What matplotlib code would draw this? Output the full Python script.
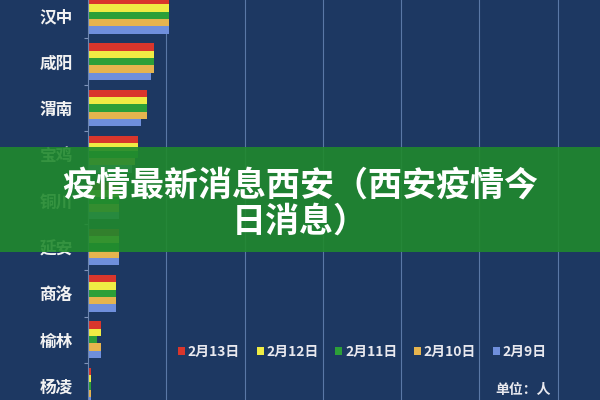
import matplotlib
matplotlib.use("Agg")
import matplotlib.pyplot as plt
import numpy as np
from matplotlib.patches import Rectangle

plt.rcParams['font.family'] = ['Noto Sans CJK SC', 'DejaVu Sans']

# 陕西各市确诊人数（西安、安康在图外）
cities = ["汉中", "咸阳", "渭南", "宝鸡", "铜川", "延安", "商洛", "榆林", "杨凌"]
dates = ["2月13日", "2月12日", "2月11日", "2月10日", "2月9日"]
feb13 = [26, 21, 19, 16, 10, 10, 9, 4, 1]
feb12 = [26, 21, 19, 16, 10, 10, 9, 4, 1]
feb11 = [26, 21, 19, 16, 10, 10, 9, 3, 1]
feb10 = [26, 21, 19, 15, 10, 10, 9, 4, 1]
feb09 = [26, 20, 17, 14, 10, 10, 9, 4, 1]
series = [feb13, feb12, feb11, feb10, feb09]
colors = ["#d9362c", "#efec44", "#2c9f38", "#e6b44e", "#6f8fdc"]

title_1 = "疫情最新消息西安（西安疫情今"
title_2 = "日消息）"

bg = "#1d3862"
txt = "#f2f2f2"

fig = plt.figure(figsize=(6, 4), dpi=100, facecolor=bg)
ax = fig.add_axes([88 / 600, 0, 1 - 88 / 600, 1], facecolor=bg)

y = np.arange(len(cities))
h = 0.158
for k, (vals, c) in enumerate(zip(series, colors)):
    ax.barh(y + (k - 2) * h, vals, height=h, color=c, label=dates[k], zorder=2)

ax.set_xlim(0, 512 / 3.13)
ax.set_ylim(8.3, -0.33)
ax.set_xticks(np.arange(25, 175, 25))
ax.set_xticklabels([])
ax.tick_params(axis='x', length=0)
ax.grid(axis='x', color="#5a78a6", linewidth=0.8)
ax.set_axisbelow(True)

ax.set_yticks(y)
ax.set_yticklabels(cities, color=txt, fontsize=12, fontweight='bold')
ax.tick_params(axis='y', which='major', length=0, pad=11)
ax.set_yticks(y[:-1] + 0.5, minor=True)
ax.tick_params(axis='y', which='minor', length=3, color="#8094ba", width=0.8)

for s in ["top", "right", "bottom"]:
    ax.spines[s].set_visible(False)
ax.spines["left"].set_color("#6d86b0")
ax.spines["left"].set_linewidth(0.8)

leg = ax.legend(ncol=5, loc='center', bbox_to_anchor=(0.604, 0.12),
                bbox_transform=fig.transFigure, frameon=False,
                handlelength=0.5, handleheight=0.5, handletextpad=0.2,
                columnspacing=1.2, prop={'size': 10, 'weight': 'bold'})
for t in leg.get_texts():
    t.set_color("#e8e8ee")

fig.text(0.825, 0.025, "单位：人", color="#e8e8ee", fontsize=10,
         fontweight='bold', ha='left', va='center')

# 绿色标题横幅
fig.add_artist(Rectangle((0, 1 - 252 / 400), 1, 105 / 400,
                         transform=fig.transFigure, facecolor="#20892d",
                         alpha=0.9, edgecolor='none'))
fig.text(0.5, 1 - 185 / 400, title_1, color='white', fontsize=24.5,
         fontweight='bold', ha='center', va='center')
fig.text(0.5, 1 - 221 / 400, title_2, color='white', fontsize=24.5,
         fontweight='bold', ha='center', va='center')

fig.savefig("out.png", dpi=100, facecolor=bg)
